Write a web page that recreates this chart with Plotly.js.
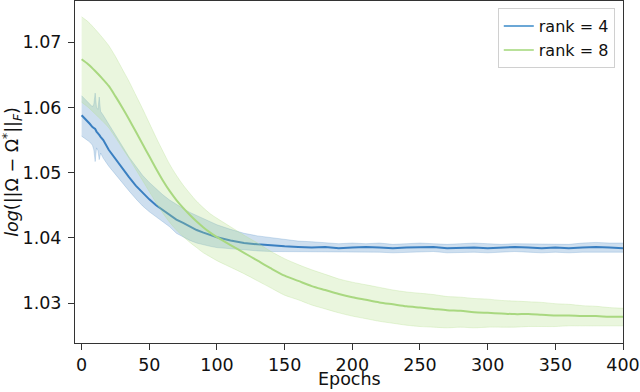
<!DOCTYPE html>
<html>
<head>
<meta charset="utf-8">
<script src="https://cdn.plot.ly/plotly-3.0.1.min.js"></script>
<style>html,body{margin:0;padding:0;background:#fff;}#chart{width:640px;height:392px;}</style>
</head>
<body>
<div id="chart"></div>
<script>
// ---- data ----
const seriesNames = ["rank = 4", "rank = 8"];
const xTitle = "Epochs";

const epochsR4 = [0,3,6,8,9,10,11,12,13,14,16,20,25,30,35,40,45,50,55,60,65,70,75,80,85,90,95,100,110,120,130,140,150,160,170,180,190,200,210,220,230,240,250,260,270,280,290,300,310,320,330,340,350,360,370,380,390,400];
const meanR4 = [1.0588,1.0582,1.0575,1.0570,1.0568,1.0567,1.0563,1.0561,1.0558,1.0555,1.0550,1.0535,1.0521,1.0506,1.0493,1.0480,1.0469,1.0459,1.0450,1.0443,1.0436,1.0428,1.0423,1.0417,1.0412,1.0408,1.0404,1.0401,1.0396,1.0392,1.0390,1.0388,1.0387,1.0386,1.0385,1.0386,1.0384,1.0385,1.0386,1.0385,1.0384,1.0385,1.0385,1.0386,1.0384,1.0385,1.0385,1.0384,1.0385,1.0386,1.0385,1.0384,1.0385,1.0384,1.0385,1.0386,1.0385,1.0384];
const upperR4 = [1.0618,1.0612,1.0605,1.0601,1.0605,1.0622,1.0600,1.0597,1.0616,1.0594,1.0588,1.0575,1.0558,1.0541,1.0524,1.0509,1.0496,1.0485,1.0475,1.0466,1.0458,1.0451,1.0445,1.0439,1.0434,1.0429,1.0425,1.0420,1.0413,1.0407,1.0403,1.0400,1.0397,1.0395,1.0394,1.0392,1.0391,1.0392,1.0391,1.0392,1.0390,1.0391,1.0392,1.0391,1.0390,1.0391,1.0392,1.0391,1.0390,1.0391,1.0391,1.0390,1.0391,1.0390,1.0392,1.0393,1.0392,1.0392];
const lowerR4 = [1.0556,1.0552,1.0547,1.0542,1.0535,1.0517,1.0538,1.0534,1.0520,1.0530,1.0522,1.0510,1.0497,1.0485,1.0472,1.0460,1.0449,1.0440,1.0432,1.0424,1.0417,1.0407,1.0401,1.0396,1.0392,1.0389,1.0387,1.0385,1.0383,1.0381,1.0380,1.0379,1.0379,1.0379,1.0378,1.0379,1.0378,1.0378,1.0379,1.0378,1.0377,1.0378,1.0378,1.0379,1.0377,1.0378,1.0378,1.0377,1.0378,1.0379,1.0378,1.0377,1.0378,1.0377,1.0378,1.0378,1.0377,1.0378];

const epochsR8 = [0,5,10,15,20,25,30,35,40,45,50,55,60,65,70,75,80,85,90,95,100,110,120,130,140,150,160,170,180,190,200,210,220,230,240,250,260,270,280,290,300,310,320,330,340,350,360,370,380,390,400];
const meanR8 = [1.0674,1.0666,1.0656,1.0645,1.0633,1.0617,1.0600,1.0582,1.0563,1.0544,1.0525,1.0506,1.0488,1.0472,1.0458,1.0446,1.0435,1.0425,1.0416,1.0408,1.0401,1.0389,1.0377,1.0365,1.0353,1.0342,1.0334,1.0326,1.0320,1.0314,1.0309,1.0305,1.0301,1.0298,1.0295,1.0293,1.0291,1.0289,1.0288,1.0286,1.0285,1.0284,1.0283,1.0283,1.0282,1.0281,1.0281,1.0280,1.0280,1.0279,1.0279];
const upperR8 = [1.0739,1.0731,1.0720,1.0708,1.0695,1.0678,1.0659,1.0640,1.0619,1.0598,1.0576,1.0554,1.0533,1.0513,1.0496,1.0481,1.0468,1.0456,1.0446,1.0437,1.0430,1.0417,1.0404,1.0392,1.0379,1.0368,1.0359,1.0351,1.0344,1.0337,1.0332,1.0328,1.0324,1.0320,1.0317,1.0315,1.0313,1.0310,1.0309,1.0307,1.0306,1.0304,1.0303,1.0302,1.0301,1.0299,1.0298,1.0296,1.0295,1.0293,1.0292];
const lowerR8 = [1.0608,1.0600,1.0590,1.0580,1.0569,1.0554,1.0538,1.0522,1.0505,1.0488,1.0471,1.0454,1.0438,1.0424,1.0412,1.0402,1.0393,1.0385,1.0377,1.0371,1.0365,1.0355,1.0345,1.0334,1.0323,1.0312,1.0305,1.0297,1.0291,1.0285,1.0280,1.0276,1.0272,1.0269,1.0266,1.0264,1.0263,1.0262,1.0263,1.0262,1.0263,1.0263,1.0263,1.0264,1.0264,1.0264,1.0265,1.0265,1.0265,1.0265,1.0265];

const yTickVals = [1.03, 1.04, 1.05, 1.06, 1.07];
const yTickText = ["1.03", "1.04", "1.05", "1.06", "1.07"];
const xTickVals = [0, 50, 100, 150, 200, 250, 300, 350, 400];
const xTickText = ["0", "50", "100", "150", "200", "250", "300", "350", "400"];

// ---- styles ----
const blueLine = "#3a7fc1", blueFill = "rgba(58,127,193,0.25)", blueEdge = "rgba(58,127,193,0.22)", blueLegend = "#6ba7d6";
const greenLine = "#a9d880", greenFill = "rgba(178,223,138,0.28)", greenEdge = "rgba(178,223,138,0.3)", greenLegend = "#b9e19a";

const traces = [
  {x: epochsR4, y: lowerR4, type: "scatter", mode: "lines", line: {color: blueEdge, width: 1}, showlegend: false, hoverinfo: "skip"},
  {x: epochsR4, y: upperR4, type: "scatter", mode: "lines", fill: "tonexty", fillcolor: blueFill, line: {color: blueEdge, width: 1}, showlegend: false, hoverinfo: "skip"},
  {x: epochsR4, y: meanR4, type: "scatter", mode: "lines", line: {color: blueLine, width: 2}, showlegend: false},
  {x: epochsR8, y: lowerR8, type: "scatter", mode: "lines", line: {color: greenEdge, width: 1, shape: "spline", smoothing: 0.8}, showlegend: false, hoverinfo: "skip"},
  {x: epochsR8, y: upperR8, type: "scatter", mode: "lines", fill: "tonexty", fillcolor: greenFill, line: {color: greenEdge, width: 1, shape: "spline", smoothing: 0.8}, showlegend: false, hoverinfo: "skip"},
  {x: epochsR8, y: meanR8, type: "scatter", mode: "lines", line: {color: greenLine, width: 2, shape: "spline", smoothing: 0.8}, showlegend: false},
  {x: [null], y: [null], type: "scatter", mode: "lines", name: seriesNames[0], line: {color: blueLegend, width: 2}},
  {x: [null], y: [null], type: "scatter", mode: "lines", name: seriesNames[1], line: {color: greenLegend, width: 2}}
];

const font = {family: "DejaVu Sans, sans-serif", size: 17.5, color: "#111"};

const layout = {
  width: 640, height: 392,
  margin: {l: 75, r: 17, t: 1, b: 49, pad: 0},
  paper_bgcolor: "#fff", plot_bgcolor: "#fff",
  font: font,
  showlegend: true,
  legend: {
    x: 0.985, y: 0.979, xanchor: "right", yanchor: "top",
    traceorder: "normal",
    bgcolor: "rgba(255,255,255,0.85)", bordercolor: "#d0d0d0", borderwidth: 1,
    font: {family: "DejaVu Sans, sans-serif", size: 16, color: "#111"},
    itemwidth: 30, tracegroupgap: 0
  },
  xaxis: {
    range: [-4.9, 400], tickvals: xTickVals, ticktext: xTickText,
    showgrid: false, zeroline: false, showline: true, mirror: true,
    linecolor: "#333", linewidth: 1, ticks: "outside", ticklen: 6, tickcolor: "#333",
    tickfont: font, ticklabelstandoff: 0
  },
  yaxis: {
    range: [1.02387, 1.07633], tickvals: yTickVals, ticktext: yTickText,
    showgrid: false, zeroline: false, showline: true, mirror: true,
    linecolor: "#333", linewidth: 1, ticks: "outside", ticklen: 6, tickcolor: "#333",
    tickfont: font, ticklabelstandoff: 3,
    title: {text: "<i>log</i>(||Ω − Ω<sup>*</sup>||<sub><i>F</i></sub>)", font: font, standoff: 6}
  },
  annotations: [{
    text: xTitle, xref: "paper", yref: "paper", x: 0.5, y: 0,
    xanchor: "center", yanchor: "top", yshift: -25, borderpad: 0, showarrow: false, font: font
  }]
};

Plotly.newPlot("chart", traces, layout, {staticPlot: true, displayModeBar: false});
</script>
</body>
</html>
